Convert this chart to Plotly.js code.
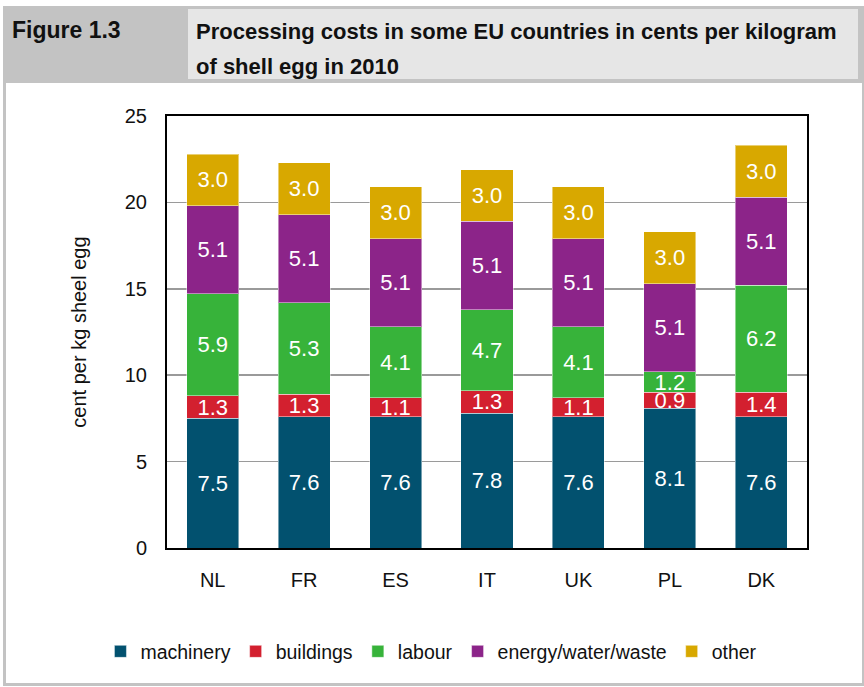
<!DOCTYPE html>
<html>
<head>
<meta charset="utf-8">
<script src="https://cdn.plot.ly/plotly-3.0.1.min.js"></script>
<style>
  body { margin: 0; background: #fff; font-family: "Liberation Sans Narrow", "Arial Narrow", "Liberation Sans", sans-serif; }
  #frame { position: absolute; left: 3px; top: 6px; width: 856px; height: 677px; border: 3px solid #c3c3c3; border-top: none; }
  #band { position: absolute; left: 3px; top: 6px; width: 859px; height: 77px; background: #c3c3c3; }
  #fig { position: absolute; left: 12px; top: 17px; font-weight: bold; font-size: 23px; color: #111; }
  #titlebox { position: absolute; left: 188px; top: 9px; width: 670px; height: 70px; background: #e6e6e6; }
  #title { position: absolute; left: 196px; top: 14px; font-weight: bold; font-size: 22px; line-height: 35px; color: #111; }
  #plot { position: absolute; left: 0; top: 0; width: 864px; height: 687px; }
</style>
</head>
<body>
<div id="frame"></div>
<div id="band"></div>
<div id="fig">Figure 1.3</div>
<div id="titlebox"></div>
<div id="title">Processing costs in some EU countries in cents per kilogram<br>of shell egg in 2010</div>
<div id="plot"></div>
<script>
// countries and cost components (cent per kg shell egg)
var countries = ["NL", "FR", "ES", "IT", "UK", "PL", "DK"];
var machinery = [7.5, 7.6, 7.6, 7.8, 7.6, 8.1, 7.6];
var buildings = [1.3, 1.3, 1.1, 1.3, 1.1, 0.9, 1.4];
var labour    = [5.9, 5.3, 4.1, 4.7, 4.1, 1.2, 6.2];
var energy    = [5.1, 5.1, 5.1, 5.1, 5.1, 5.1, 5.1];
var other     = [3.0, 3.0, 3.0, 3.0, 3.0, 3.0, 3.0];

var series = [
  {name: "machinery", y: machinery, color: "#02516f"},
  {name: "buildings", y: buildings, color: "#d3202f"},
  {name: "labour", y: labour, color: "#37b33a"},
  {name: "energy/water/waste", y: energy, color: "#8c2489"},
  {name: "other", y: other, color: "#d8a800"}
];

var font = "Liberation Sans Narrow, Arial Narrow, Liberation Sans, sans-serif";

var chart_data = series.map(s => ({
  type: "bar",
  name: s.name,
  x: countries,
  y: s.y,
  text: s.y.map(v => v.toFixed(1)),
  textposition: "inside",
  insidetextanchor: "middle",
  textangle: 0,
  textfont: {color: "#fff", size: 22, family: font},
  marker: {color: s.color, line: {color: "rgba(255,255,255,0.45)", width: 1}},
  hoverinfo: "none"
}));

var layout = {
  width: 864,
  height: 687,
  margin: {l: 167, r: 57, t: 116, b: 139},
  paper_bgcolor: "rgba(0,0,0,0)",
  plot_bgcolor: "#fff",
  barmode: "stack",
  bargap: 0.43,
  showlegend: true,
  uniformtext: {mode: "show", minsize: 22},
  font: {family: font, color: "#111", size: 20},
  xaxis: {
    showline: true, mirror: true, linecolor: "#000", linewidth: 2,
    ticks: "", ticklabelstandoff: 13,
    tickfont: {size: 20}
  },
  yaxis: {
    range: [0, 25], dtick: 5,
    showline: true, mirror: true, linecolor: "#000", linewidth: 2,
    showgrid: true, gridcolor: "#9a9a9a", gridwidth: 1.5,
    zeroline: false, ticks: "", ticklabelstandoff: 14,
    tickfont: {size: 20},
    title: {text: "cent per kg sheel egg", font: {size: 20}, standoff: 33}
  },
  legend: {
    orientation: "h", x: -0.104, xanchor: "left", y: -0.24, yanchor: "middle",
    font: {size: 19.5}, itemwidth: 30, traceorder: "normal"
  }
};

Plotly.newPlot("plot", chart_data, layout, {staticPlot: true});
</script>
</body>
</html>
